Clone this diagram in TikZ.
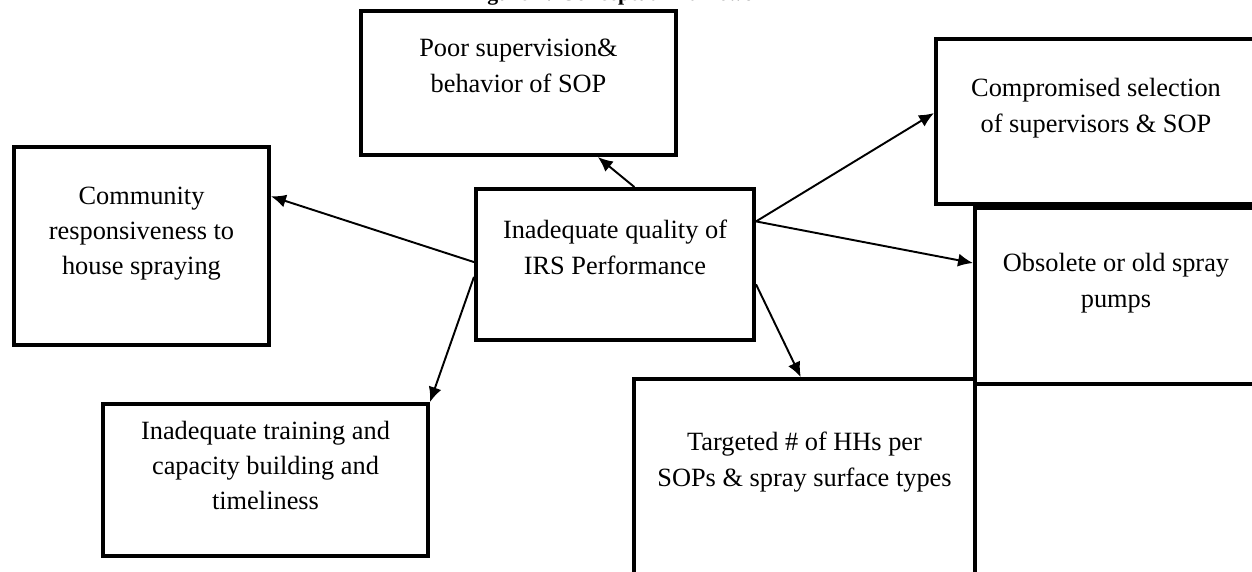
\documentclass[tikz,border=0pt]{standalone}
\usepackage{fontspec}
\setmainfont{Liberation Serif}
\usetikzlibrary{arrows.meta}

\begin{document}
\begin{tikzpicture}[
            frame/.style={draw, line width=2.3pt, fill=white, inner sep=0pt, align=center, anchor=north, font=\fontsize{15}{20}\selectfont},
            link/.style={->, >={Latex[length=8.5pt, width=7.5pt]}, line width=1.1pt}
        ]
            \useasboundingbox (0, 0) rectangle (25.04, -11.42);
            \node[anchor=base, font=\bfseries\fontsize{12.4}{14}\selectfont] (title) at (12.44, -0.01) {Figure 1: Conceptual framework};
            \node[frame, minimum width=6.30cm, text height=1.62cm, text depth=1.26cm] (poor) at (10.37, -0.18) {Poor supervision\&\\behavior of SOP};
            \node[frame, minimum width=6.40cm, text height=1.86cm, text depth=1.44cm] (compromised) at (21.92, -0.74) {Compromised selection\\of supervisors \& SOP};
            \node[frame, minimum width=5.10cm, text height=2.55cm, text depth=1.41cm] (community) at (2.83, -2.90) {Community\\responsiveness to\\house spraying};
            \node[frame, minimum width=5.56cm, text height=1.70cm, text depth=1.32cm] (central) at (12.30, -3.74) {Inadequate quality of\\IRS Performance};
            \node[frame, minimum width=5.64cm, text height=1.98cm, text depth=1.54cm] (obsolete) at (22.32, -4.12) {Obsolete or old spray\\pumps};
            \node[frame, minimum width=6.50cm, text height=2.11cm, text depth=0.93cm] (training) at (5.31, -8.04) {Inadequate training and\\capacity building and\\timeliness};
            \node[frame, minimum width=6.82cm, text height=2.14cm, text depth=2.12cm] (targeted) at (16.09, -7.54) {Targeted \# of HHs per\\SOPs \& spray surface types};
            \draw[link] (central.76.9) -- (poor.-43);
            \draw[link] (central.179) -- (community.21.5);
            \draw[link] (central.185) -- (training.north east);
            \draw[link] (central.17.5) -- (compromised.177.7);
            \draw[link] (central.17.5) -- (obsolete.167.4);
            \draw[link] (central.-8.3) -- (targeted.92.4);
        \end{tikzpicture}
\end{document}
